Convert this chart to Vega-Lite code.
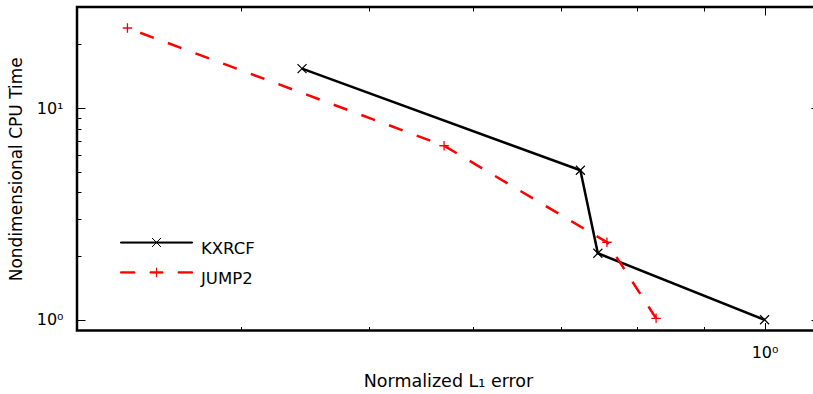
{
  "$schema": "https://vega.github.io/schema/vega-lite/v6.json",
  "width": 742,
  "height": 323.5,
  "autosize": {"type": "none"},
  "padding": {"left": 77, "top": 7, "right": 0, "bottom": 63.5},
  "background": "white",
  "config": {
    "view": {"stroke": "black", "strokeWidth": 2.5},
    "font": "DejaVu Sans",
    "axis": {"labelColor": "black", "titleColor": "black", "tickColor": "black", "tickWidth": 1, "domain": false, "grid": false, "labelFont": "DejaVu Sans", "titleFont": "DejaVu Sans", "titleFontWeight": "normal", "labelFlush": false, "labelOverlap": false}
  },
  "data": {
    "values": [
      {"series": "KXRCF", "err": 0.4449, "cpu": 15.34},
      {"series": "KXRCF", "err": 0.7243, "cpu": 5.085},
      {"series": "KXRCF", "err": 0.7468, "cpu": 2.061},
      {"series": "KXRCF", "err": 1.0, "cpu": 1.0},
      {"series": "JUMP2", "err": 0.3277, "cpu": 23.87},
      {"series": "JUMP2", "err": 0.5705, "cpu": 6.636},
      {"series": "JUMP2", "err": 0.7588, "cpu": 2.323},
      {"series": "JUMP2", "err": 0.827, "cpu": 1.016}
    ]
  },
  "resolve": {"axis": {"x": "independent", "y": "independent"}},
  "layer": [
    {
      "transform": [{"filter": "datum.series === 'KXRCF'"}],
      "mark": {"type": "line", "strokeWidth": 2.5},
      "encoding": {
        "x": {"field": "err", "type": "quantitative", "scale": {"type": "log", "domain": [0.3, 1.1], "nice": false, "zero": false},
          "axis": {"orient": "bottom", "values": [0.4, 0.5, 0.6, 0.7, 0.8, 0.9, 1], "labelExpr": "datum.value == 1 ? '10⁰' : ''",
            "tickSize": {"condition": {"test": "datum.value == 1", "value": -8}, "value": -4},
            "labelFontSize": 16, "labelPadding": 22,
            "title": "Normalized L₁ error", "titleFontSize": 17.5, "titleY": 50.5, "titleBaseline": "middle"}},
        "y": {"field": "cpu", "type": "quantitative", "scale": {"type": "log", "domain": [0.89, 30], "nice": false, "zero": false},
          "axis": {"orient": "left", "values": [1, 2, 3, 4, 5, 6, 7, 8, 9, 10, 20], "labelExpr": "datum.value == 1 ? '10⁰' : datum.value == 10 ? '10¹' : ''",
            "tickSize": {"condition": {"test": "datum.value == 1 || datum.value == 10", "value": -8}, "value": -4},
            "labelFontSize": 16, "labelPadding": 22,
            "title": "Nondimensional CPU Time", "titleFontSize": 17, "titleX": -61, "titleY": 161.75, "titleAngle": -90, "titleAlign": "center", "titleBaseline": "middle"}},
        "color": {"field": "series", "type": "nominal", "scale": {"domain": ["KXRCF", "JUMP2"], "range": ["black", "red"]},
          "legend": {"title": null, "orient": "none", "legendX": 70, "legendY": 232, "padding": 0, "symbolSize": 324,
            "labelFontSize": 16.5, "labelFont": "DejaVu Sans", "labelColor": "black", "labelOffset": 35, "rowPadding": 8, "symbolStrokeWidth": 1,
            "encode": {"symbols": {"update": {
              "shape": {"signal": "datum.value === 'KXRCF' ? 'M-4,-0.72H4V-0.6H-4ZM-0.5,-1.17L0.5,-0.17M-0.5,-0.17L0.5,-1.17' : 'M-4,-0.74H-2.4V-0.6H-4ZM-0.72,-0.74H0.72V-0.6H-0.72ZM2.4,-0.74H4V-0.6H2.4ZM0,-1.2V-0.14'"},
              "fill": {"signal": "datum.value === 'KXRCF' ? 'black' : 'red'"},
              "stroke": {"signal": "datum.value === 'KXRCF' ? 'black' : 'red'"},
              "fillOpacity": {"value": 1}, "strokeOpacity": {"value": 1}, "opacity": {"value": 1}, "strokeDash": {"value": []}
            }}}}}
      }
    },
    {
      "transform": [{"filter": "datum.series === 'KXRCF'"}],
      "mark": {"type": "point", "shape": "M-1,-1L1,1M-1,1L1,-1", "size": 81, "filled": false, "color": "black", "strokeWidth": 1.2, "opacity": 1},
      "encoding": {
        "x": {"field": "err", "type": "quantitative", "scale": {"type": "log", "domain": [0.3, 1.1], "nice": false, "zero": false}, "axis": null},
        "y": {"field": "cpu", "type": "quantitative", "scale": {"type": "log", "domain": [0.89, 30], "nice": false, "zero": false}, "axis": null}
      }
    },
    {
      "transform": [{"filter": "datum.series === 'JUMP2'"}],
      "mark": {"type": "line", "strokeWidth": 2.5, "color": "red", "strokeDash": [14.5, 15], "strokeDashOffset": 15.9},
      "encoding": {
        "x": {"field": "err", "type": "quantitative", "scale": {"type": "log", "domain": [0.3, 1.1], "nice": false, "zero": false},
          "axis": {"orient": "top", "values": [0.4, 0.5, 0.6, 0.7, 0.8, 0.9, 1], "labels": false, "title": null,
            "tickSize": {"condition": {"test": "datum.value == 1", "value": -8}, "value": -4}}},
        "y": {"field": "cpu", "type": "quantitative", "scale": {"type": "log", "domain": [0.89, 30], "nice": false, "zero": false},
          "axis": {"orient": "right", "values": [1, 2, 3, 4, 5, 6, 7, 8, 9, 10, 20], "labels": false, "title": null,
            "tickSize": {"condition": {"test": "datum.value == 1 || datum.value == 10", "value": -8}, "value": -4}}}
      }
    },
    {
      "transform": [{"filter": "datum.series === 'JUMP2'"}],
      "mark": {"type": "point", "shape": "M-1,0H1M0,-1V1", "size": 90, "filled": false, "color": "red", "strokeWidth": 1.3, "opacity": 1},
      "encoding": {
        "x": {"field": "err", "type": "quantitative", "scale": {"type": "log", "domain": [0.3, 1.1], "nice": false, "zero": false}, "axis": null},
        "y": {"field": "cpu", "type": "quantitative", "scale": {"type": "log", "domain": [0.89, 30], "nice": false, "zero": false}, "axis": null}
      }
    }
  ]
}
